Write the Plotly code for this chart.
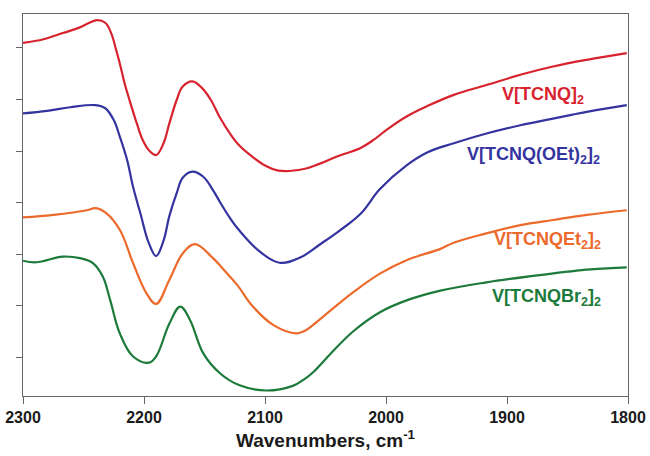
import plotly.graph_objects as go

# Wavenumbers (cm^-1) and offset transmittance (arb. units)
red_x = [2300, 2283, 2267, 2253, 2245, 2239, 2232, 2227, 2223, 2220, 2216, 2212, 2206, 2201, 2195, 2190,
         2184, 2179, 2173, 2168, 2160, 2152, 2145, 2137, 2129, 2121, 2110, 2100, 2089, 2068, 2055, 2041, 2021,
         2010, 1999, 1983, 1966, 1944, 1917, 1889, 1862, 1834, 1801]
red_y = [6.10, 6.17, 6.29, 6.40, 6.49, 6.54, 6.49, 6.28, 5.96, 5.70, 5.31, 4.99, 4.54, 4.21, 3.99, 3.92,
         4.14, 4.54, 4.99, 5.25, 5.35, 5.22, 5.00, 4.64, 4.34, 4.10, 3.88, 3.72, 3.62, 3.65, 3.75, 3.89, 4.06,
         4.22, 4.42, 4.67, 4.87, 5.09, 5.28, 5.48, 5.64, 5.77, 5.90]

blue_x = [2300, 2280, 2261, 2240, 2232, 2225, 2220, 2214, 2209, 2203, 2196, 2190, 2184, 2179, 2173, 2168,
          2160, 2151, 2143, 2137, 2129, 2121, 2104, 2088, 2071, 2055, 2038, 2021, 2005, 1983, 1966, 1944,
          1917, 1889, 1862, 1834, 1801]
blue_y = [4.73, 4.78, 4.85, 4.89, 4.83, 4.60, 4.28, 3.83, 3.30, 2.79, 2.21, 1.96, 2.25, 2.74, 3.18, 3.48,
          3.60, 3.50, 3.24, 3.00, 2.70, 2.45, 2.04, 1.83, 1.93, 2.18, 2.46, 2.78, 3.26, 3.72, 3.97, 4.15,
          4.34, 4.50, 4.63, 4.76, 4.89]

orange_x = [2300, 2275, 2247, 2240, 2231, 2220, 2209, 2198, 2190, 2179, 2168, 2158, 2143, 2132, 2123,
            2110, 2093, 2074, 2067, 2060, 2046, 2027, 2005, 1983, 1955, 1944, 1917, 1889, 1862, 1834, 1801]
orange_y = [2.71, 2.76, 2.85, 2.89, 2.79, 2.47, 1.82, 1.24, 1.03, 1.50, 2.01, 2.19, 1.92, 1.64, 1.40,
            0.98, 0.62, 0.46, 0.51, 0.63, 0.90, 1.26, 1.62, 1.88, 2.10, 2.22, 2.40, 2.56, 2.66, 2.76, 2.85]

green_x = [2300, 2289, 2267, 2253, 2242, 2234, 2228, 2220, 2209, 2196, 2190, 2179, 2170, 2162, 2151,
           2137, 2121, 2099, 2077, 2068, 2060, 2046, 2027, 2005, 1983, 1955, 1917, 1873, 1831, 1801]
green_y = [1.87, 1.84, 1.95, 1.92, 1.82, 1.56, 1.11, 0.46, 0.01, -0.11, 0.01, 0.65, 0.98, 0.72, 0.07,
           -0.32, -0.55, -0.65, -0.56, -0.44, -0.29, 0.06, 0.50, 0.87, 1.10, 1.29, 1.45, 1.59, 1.70, 1.74]

series_names = ["V[TCNQ]<sub>2</sub>", "V[TCNQ(OEt)<sub>2</sub>]<sub>2</sub>",
                "V[TCNQEt<sub>2</sub>]<sub>2</sub>", "V[TCNQBr<sub>2</sub>]<sub>2</sub>"]
label_x = [1906, 1935, 1912, 1914]
label_y = [5.07, 3.92, 2.27, 1.15]

x_ticks = [2300, 2200, 2100, 2000, 1900, 1800]
y_ticks = [0, 1, 2, 3, 4, 5, 6]

colors = ["#d8232f", "#3434a0", "#ec6a2c", "#1c7a3a"]
xs = [red_x, blue_x, orange_x, green_x]
ys = [red_y, blue_y, orange_y, green_y]

FONT = "Liberation Sans, Arial, sans-serif"

fig = go.Figure()
for x, y, c in zip(xs, ys, colors):
    fig.add_trace(go.Scatter(x=x, y=y, mode="lines",
                             line=dict(color=c, width=2.2, shape="spline", smoothing=1.1),
                             showlegend=False, hoverinfo="skip"))

for name, lx, ly, c in zip(series_names, label_x, label_y, colors):
    fig.add_annotation(x=lx, y=ly, text="<b>" + name + "</b>", showarrow=False,
                       xanchor="left", yanchor="middle",
                       font=dict(family=FONT, size=18, color=c))

fig.update_layout(
    width=650, height=456,
    margin=dict(l=23, r=22, t=14, b=60),
    paper_bgcolor="white", plot_bgcolor="white",
    font=dict(family=FONT, color="#1a1a1a"),
)
fig.update_xaxes(
    range=[2300, 1800], tickvals=x_ticks, ticktext=["<b>%d</b>" % t for t in x_ticks],
    ticks="outside", ticklen=7, tickcolor="#666", tickwidth=1.2,
    showline=True, linecolor="#666", linewidth=1.2, mirror=True,
    showgrid=False, zeroline=False, automargin=False,
    tickfont=dict(family=FONT, size=16, color="#1a1a1a"),
    title=dict(text="<b>Wavenumbers, cm<sup>-1</sup></b>", standoff=8,
               font=dict(family=FONT, size=19, color="#1a1a1a")),
)
fig.update_yaxes(
    range=[-0.757, 6.66], tickvals=y_ticks, showticklabels=False,
    ticks="outside", ticklen=6, tickcolor="#666", tickwidth=1.2,
    showline=True, linecolor="#666", linewidth=1.2, mirror=True,
    showgrid=False, zeroline=False, automargin=False,
)

fig.write_html(
    "out.html",
    config={"displayModeBar": False},
    post_script="document.body.style.margin='0';document.body.style.padding='0';"
                "document.documentElement.style.overflow='hidden';",
)
